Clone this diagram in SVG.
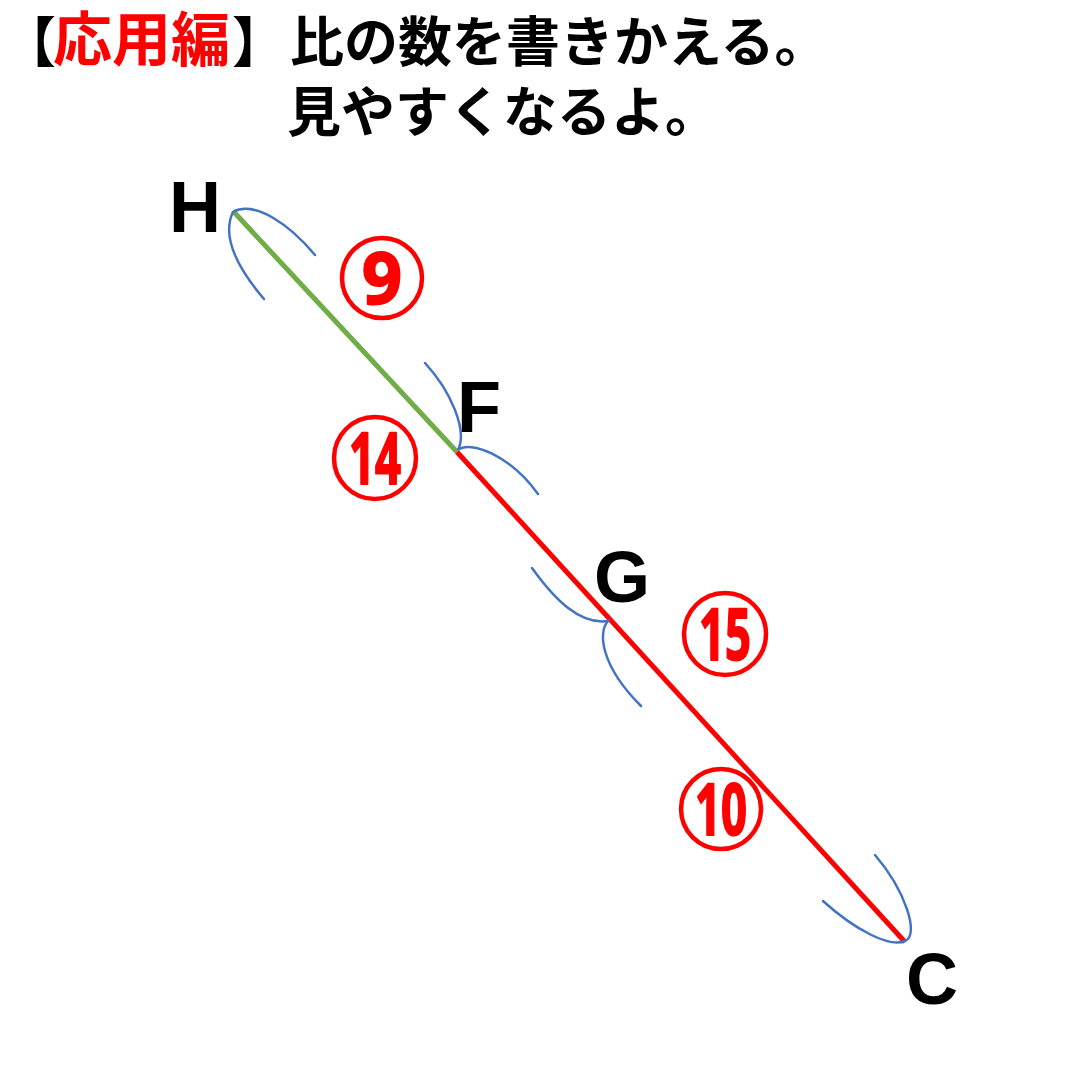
<svg xmlns="http://www.w3.org/2000/svg" width="1080" height="1080" viewBox="0 0 1080 1080">
<style>
.title{font-family:"Noto Sans CJK JP","Noto Sans CJK SC",sans-serif;font-weight:bold;font-size:54px;fill:#000}
.red{fill:#FF0000;font-size:59px}
.lbl{font-family:"Liberation Sans","DejaVu Sans",sans-serif;font-weight:bold;font-size:72px;fill:#000}
.arc{fill:none;stroke:#4472C4;stroke-width:2.5;stroke-linecap:round}
.ring{fill:none;stroke:#FF0000;stroke-width:4.5}
.num{font-family:"Noto Sans","Liberation Sans",sans-serif;font-weight:bold;font-size:72px;fill:#FF0000;stroke:#FF0000;stroke-width:2;stroke-linejoin:round;text-anchor:middle}
</style>
<rect width="1080" height="1080" fill="#fff"/>
<g id="title">
<text class="title" y="62"><tspan x="2">【</tspan><tspan class="red" x="53" y="61">応用編</tspan><tspan x="232" y="62">】</tspan><tspan x="290">比の数を書きかえる。</tspan></text>
<text class="title" x="287" y="132">見やすくなるよ。</text>
</g>
<g id="connectors">
<line x1="233" y1="211" x2="457" y2="452" stroke="#70AD47" stroke-width="5"/>
<line x1="457" y1="452" x2="905" y2="942" stroke="#FF0000" stroke-width="5"/>
<path class="arc" d="M315,255 C290,225 255,200 233,212 C222,235 235,265 264,299"/>
<path class="arc" d="M425,363 C450,390 468,430 458,450 C470,440 510,455 538,494"/>
<path class="arc" d="M532,568 C555,600 580,625 608,621 C598,632 600,665 641,706"/>
<path class="arc" d="M875,855 C905,890 920,935 905,941 C890,948 855,930 823,901"/>
</g>
<g id="node-H"><text class="lbl" x="169" y="232">H</text></g>
<g id="node-F"><text class="lbl" x="457" y="432">F</text></g>
<g id="node-G"><text class="lbl" x="594" y="602">G</text></g>
<g id="node-C"><text class="lbl" x="906" y="1004">C</text></g>
<g id="label-9"><circle class="ring" cx="382" cy="278" r="40"/><text class="num" x="382" y="304" textLength="40" lengthAdjust="spacingAndGlyphs">9</text></g>
<g id="label-14"><circle class="ring" cx="375" cy="458" r="41"/><text class="num" x="375" y="484" textLength="52" lengthAdjust="spacingAndGlyphs">14</text></g>
<g id="label-15"><circle class="ring" cx="725" cy="634" r="41"/><text class="num" x="725" y="660" textLength="52" lengthAdjust="spacingAndGlyphs">15</text></g>
<g id="label-10"><circle class="ring" cx="721" cy="809" r="40"/><text class="num" x="721" y="835" textLength="52" lengthAdjust="spacingAndGlyphs">10</text></g>
</svg>
